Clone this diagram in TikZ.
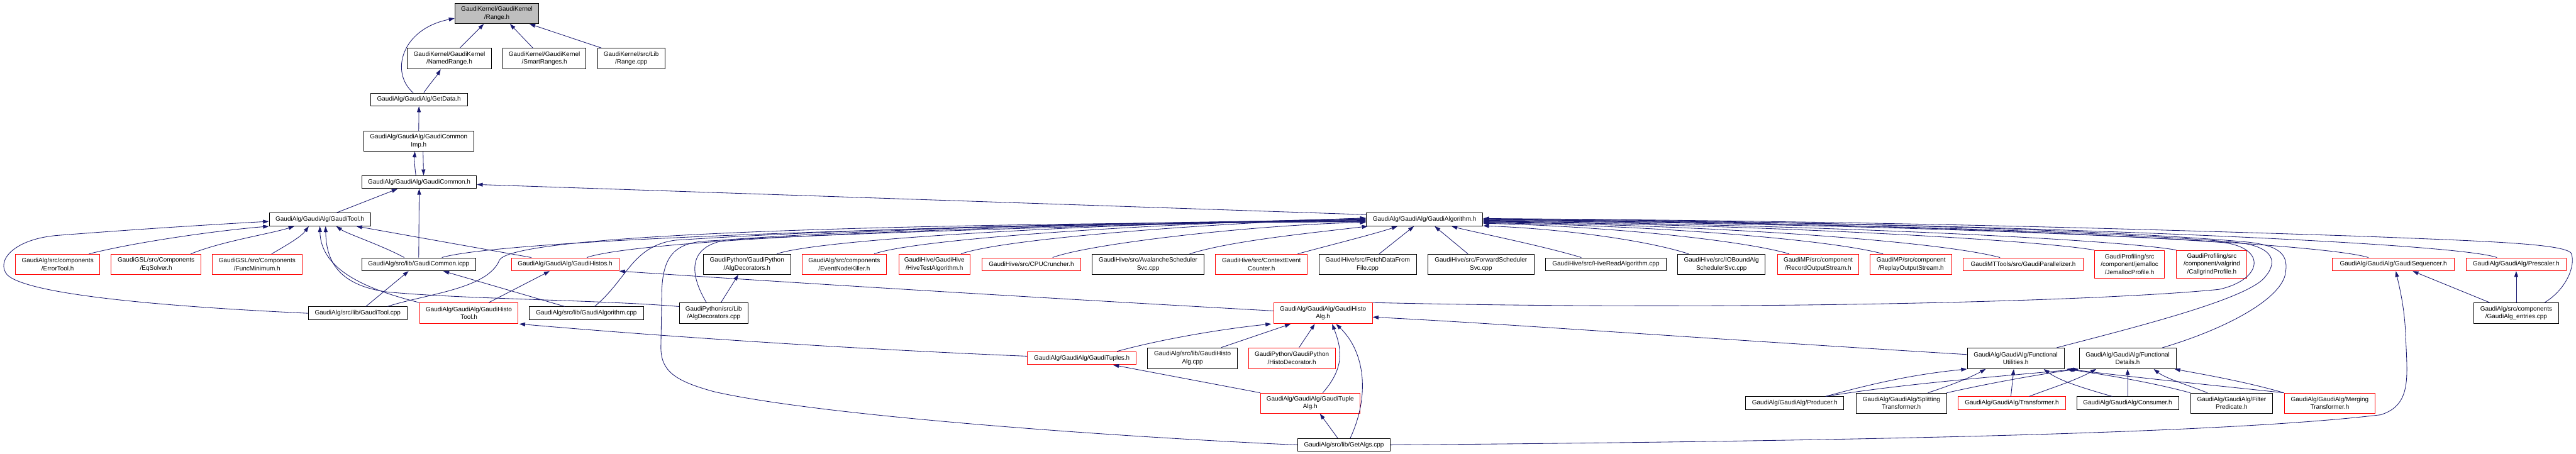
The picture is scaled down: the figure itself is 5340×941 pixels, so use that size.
\documentclass[tikz,border=0pt]{standalone}
\usepackage{fontspec}
\setmainfont{Liberation Sans}
\usetikzlibrary{arrows.meta,calc}
\definecolor{edgec}{RGB}{25,25,112}
\definecolor{redc}{RGB}{255,0,0}
\definecolor{grayf}{RGB}{191,191,191}
\begin{document}
\begin{tikzpicture}[x=1pt,y=-1pt,
 box/.style={draw=black, line width=1.25pt, inner sep=0pt, align=center, font=\fontsize{13}{16}\selectfont, fill=white},
 rbox/.style={box, draw=redc},
 sz/.style 2 args={minimum width=#1pt, minimum height=#2pt},
 e/.style={draw=edgec, line width=1.1pt, -{Triangle[length=12pt,width=8pt]}}]
\useasboundingbox[fill=white] (0,0) rectangle (5340,941);
% row 0-5
\node[box, sz={174}{42}, fill=grayf] (rh) at (1030,28) {GaudiKernel/GaudiKernel\\/Range.h};
\node[box, sz={175}{43}] (nr) at (931.5,121.5) {GaudiKernel/GaudiKernel\\/NamedRange.h};
\node[box, sz={173}{43}] (sr) at (1128.5,121.5) {GaudiKernel/GaudiKernel\\/SmartRanges.h};
\node[box, sz={139}{43}] (rcpp) at (1308.5,121.5) {GaudiKernel/src/Lib\\/Range.cpp};
\node[box, sz={201}{27}] (gd) at (868.5,206.5) {GaudiAlg/GaudiAlg/GetData.h};
\node[box, sz={228}{42}] (gci) at (868,292.5) {GaudiAlg/GaudiAlg/GaudiCommon\\Imp.h};
\node[box, sz={238}{27}] (gc) at (869,377.5) {GaudiAlg/GaudiAlg/GaudiCommon.h};
\node[box, sz={210}{27}] (gt) at (663,455) {GaudiAlg/GaudiAlg/GaudiTool.h};
\node[box, sz={242}{27}] (ga) at (2953,455) {GaudiAlg/GaudiAlg/GaudiAlgorithm.h};
% row 6
\node[rbox, sz={175}{42}] (et) at (119.5,548) {GaudiAlg/src/components\\/ErrorTool.h};
\node[rbox, sz={187}{42}] (eq) at (323.5,548) {GaudiGSL/src/Components\\/EqSolver.h};
\node[rbox, sz={186}{42}] (fm) at (533,548) {GaudiGSL/src/Components\\/FuncMinimum.h};
\node[box, sz={236}{27}] (gcicpp) at (868,548) {GaudiAlg/src/lib/GaudiCommon.icpp};
\node[rbox, sz={223}{27}] (ghs) at (1171.5,548) {GaudiAlg/GaudiAlg/GaudiHistos.h};
\node[box, sz={181}{42}] (adh) at (1548.5,548) {GaudiPython/GaudiPython\\/AlgDecorators.h};
\node[rbox, sz={174}{42}] (enk) at (1750,548) {GaudiAlg/src/components\\/EventNodeKiller.h};
\node[rbox, sz={148}{42}] (hta) at (1937,548) {GaudiHive/GaudiHive\\/HiveTestAlgorithm.h};
\node[rbox, sz={204}{27}] (cpu) at (2138,548) {GaudiHive/src/CPUCruncher.h};
\node[box, sz={232}{42}] (ava) at (2380,548) {GaudiHive/src/AvalancheScheduler\\Svc.cpp};
\node[rbox, sz={190}{42}] (cec) at (2615,548) {GaudiHive/src/ContextEvent\\Counter.h};
\node[box, sz={202}{42}] (fdf) at (2835,548) {GaudiHive/src/FetchDataFrom\\File.cpp};
\node[box, sz={220}{42}] (fws) at (3070,548) {GaudiHive/src/ForwardScheduler\\Svc.cpp};
\node[box, sz={250}{27}] (hra) at (3329,548) {GaudiHive/src/HiveReadAlgorithm.cpp};
\node[box, sz={181}{42}] (iob) at (3568.5,548) {GaudiHive/src/IOBoundAlg\\SchedulerSvc.cpp};
\node[rbox, sz={168}{42}] (ros) at (3769,548) {GaudiMP/src/component\\/RecordOutputStream.h};
\node[rbox, sz={169}{42}] (rpos) at (3961.5,548) {GaudiMP/src/component\\/ReplayOutputStream.h};
\node[rbox, sz={248}{27}] (gpar) at (4194,548) {GaudiMTTools/src/GaudiParallelizer.h};
\node[rbox, sz={145}{58}] (jem) at (4414.5,548) {GaudiProfiling/src\\/component/jemalloc\\/JemallocProfile.h};
\node[rbox, sz={146}{58}] (cal) at (4585,548) {GaudiProfiling/src\\/component/valgrind\\/CallgrindProfile.h};
\node[rbox, sz={253}{27}] (gseq) at (4961.5,548) {GaudiAlg/GaudiAlg/GaudiSequencer.h};
\node[rbox, sz={208}{27}] (pres) at (5216,548) {GaudiAlg/GaudiAlg/Prescaler.h};
% row 7
\node[rbox, sz={204}{43}] (ght) at (972,649.5) {GaudiAlg/GaudiAlg/GaudiHisto\\Tool.h};
\node[box, sz={205}{27}] (gtc) at (741.5,649.5) {GaudiAlg/src/lib/GaudiTool.cpp};
\node[box, sz={237}{27}] (gacpp) at (1215.5,649.5) {GaudiAlg/src/lib/GaudiAlgorithm.cpp};
\node[box, sz={143}{43}] (adc) at (1479.5,649.5) {GaudiPython/src/Lib\\/AlgDecorators.cpp};
\node[rbox, sz={205}{43}] (gha) at (2742.5,649.5) {GaudiAlg/GaudiAlg/GaudiHisto\\Alg.h};
\node[box, sz={176}{43}] (gae) at (5216,649.5) {GaudiAlg/src/components\\/GaudiAlg\_entries.cpp};
% row 8
\node[rbox, sz={225}{27}] (gtu) at (2242.5,742.5) {GaudiAlg/GaudiAlg/GaudiTuples.h};
\node[box, sz={186}{43}] (ghacpp) at (2472,742.5) {GaudiAlg/src/lib/GaudiHisto\\Alg.cpp};
\node[rbox, sz={180}{43}] (hdec) at (2678,742.5) {GaudiPython/GaudiPython\\/HistoDecorator.h};
\node[box, sz={201}{43}] (fu) at (4178.5,743) {GaudiAlg/GaudiAlg/Functional\\Utilities.h};
\node[box, sz={201}{43}] (fd) at (4410.5,743) {GaudiAlg/GaudiAlg/Functional\\Details.h};
% row 9
\node[rbox, sz={206}{42}] (gta) at (2716,836) {GaudiAlg/GaudiAlg/GaudiTuple\\Alg.h};
\node[box, sz={203}{27}] (prod) at (3720.5,836) {GaudiAlg/GaudiAlg/Producer.h};
\node[box, sz={187}{42}] (split) at (3941.5,836) {GaudiAlg/GaudiAlg/Splitting\\Transformer.h};
\node[rbox, sz={223}{27}] (trans) at (4170.5,836) {GaudiAlg/GaudiAlg/Transformer.h};
\node[box, sz={211}{27}] (cons) at (4410.5,836) {GaudiAlg/GaudiAlg/Consumer.h};
\node[box, sz={170}{42}] (filt) at (4626,836) {GaudiAlg/GaudiAlg/Filter\\Predicate.h};
\node[rbox, sz={189}{42}] (merg) at (4829.5,836) {GaudiAlg/GaudiAlg/Merging\\Transformer.h};
% row 10
\node[box, sz={192}{27}] (galgs) at (2786,922.5) {GaudiAlg/src/lib/GetAlgs.cpp};

% ---- edges: upper part
\draw[e] ($(nr.north)+(22,0)$) -- ($(rh.south)+(-27,0)$);
\draw[e] ($(sr.north)+(-24,0)$) -- ($(rh.south)+(27,0)$);
\draw[e] ($(rcpp.north)+(-62,0)$) -- ($(rh.south east)+(-20,0)$);
\draw[e] ($(gd.north)+(-12,0)$) .. controls (808,150) and (832,60) .. ($(rh.west)+(0,10)$);
\draw[e] ($(gd.north)+(10,0)$) .. controls (890,175) and (905,158) .. ($(nr.south)+(-18,0)$);
\draw[e] (gci.north) -- (gd.south);
\draw[e] ($(gc.north)+(-7,0)$) .. controls (859,340) and (859,330) .. ($(gci.south)+(-8,0)$);
\draw[e] ($(gci.south)+(9,0)$) -- ($(gc.north)+(9,0)$);
\draw[e] ($(gt.north)+(35,0)$) -- ($(gc.south)+(-45,0)$);
\draw[e] (gcicpp.north) -- (gc.south);
\draw[e] ($(ga.west)+(0,-10)$) -- ($(gc.east)+(0,5)$);
% ---- into GaudiTool.h
\draw[e] (gtc.west) .. controls (350,636) and (60,612) .. (15,570) .. controls (-10,540) and (30,495) .. (120,488) .. controls (300,474) and (450,465) .. ($(gt.west)+(0,4)$);
\draw[e] ($(et.north)+(65,0)$) .. controls (280,502) and (450,478) .. (gt.south west);
\draw[e] ($(eq.north)+(72,0)$) .. controls (460,500) and (560,485) .. ($(gt.south)+(-53,0)$);
\draw[e] ($(fm.north)+(30,0)$) .. controls (600,505) and (625,490) .. ($(gt.south)+(-23,0)$);
\draw[e] (ght.north west) .. controls (760,600) and (665,560) .. (gt.south);
\draw[e] ($(adc.west)+(0,-14)$) .. controls (1250,622) and (950,620) .. (800,605) .. controls (700,590) and (676,540) .. ($(gt.south)+(12,0)$);
\draw[e] ($(gcicpp.north)+(-30,0)$) .. controls (790,508) and (720,485) .. ($(gt.south)+(34,0)$);
\draw[e] ($(ghs.north west)+(42,0)$) -- ($(gt.south east)+(-30,0)$);
% ---- middle left
\draw[e] ($(gtc.north)+(17,0)$) -- ($(gcicpp.south)+(-21,0)$);
\draw[e] ($(gacpp.north)+(-45,0)$) -- ($(gcicpp.south)+(51,0)$);
\draw[e] ($(ght.north)+(41,0)$) -- ($(ghs.south)+(-32,0)$);
\draw[e] ($(gha.west)+(0,-5)$) .. controls (2200,620) and (1700,590) .. (ghs.south east);
\draw[e] ($(gtu.west)+(0,-4)$) .. controls (1800,725) and (1400,700) .. ($(ght.south east)+(2,0)$);
\draw[e] ($(adc.north)+(15,0)$) -- ($(adh.south)+(-18,0)$);
% ---- GaudiHistoAlg / Tuples
\draw[e] ($(gtu.north east)+(-40,0)$) .. controls (2420,700) and (2550,680) .. ($(gha.south west)+(-4,0)$);
\draw[e] ($(ghacpp.north)+(60,0)$) -- ($(gha.south)+(-67,0)$);
\draw[e] ($(hdec.north)+(15,0)$) -- ($(gha.south)+(-17,0)$);
\draw[e] ($(gta.north)+(26,0)$) .. controls (2790,760) and (2780,720) .. ($(gha.south)+(19,0)$);
\draw[e] ($(galgs.north)+(13,0)$) .. controls (2840,820) and (2830,730) .. ($(gha.south)+(27,0)$);
\draw[e] ($(fu.west)+(0,-8)$) .. controls (3500,700) and (3100,670) .. ($(gha.east)+(0,8)$);
\draw[e] (gta.north west) -- ($(gtu.south)+(65,0)$);
\draw[e] ($(galgs.north)+(-13,0)$) -- ($(gta.south)+(20,0)$);
% ---- right side
\draw[e] (galgs.east) .. controls (3800,915) and (4600,900) .. (4935,860) .. controls (5000,840) and (4990,780) .. (4987,700) .. controls (4985,640) and (4975,600) .. ($(gseq.south)+(5,0)$);
\draw[e] ($(gae.north west)+(34,0)$) -- ($(gseq.south)+(40,0)$);
\draw[e] (gae.north) -- (pres.south);
% ---- functional
\draw[e] ($(prod.north)+(64,0)$) .. controls (3900,790) and (3980,775) .. (fu.south west);
\draw[e] ($(prod.north)+(64,0)$) .. controls (3950,795) and (4150,780) .. (fd.south west);
\draw[e] ($(split.north)+(55,0)$) .. controls (4040,800) and (4080,785) .. ($(fu.south)+(-62,0)$);
\draw[e] (split.north east) .. controls (4100,800) and (4200,780) .. ($(fd.south west)+(-3,0)$);
\draw[e] ($(trans.north)+(-2,0)$) -- ($(fu.south)+(-4,0)$);
\draw[e] ($(trans.north)+(36,0)$) .. controls (4250,805) and (4300,790) .. ($(fd.south)+(-65,0)$);
\draw[e] ($(cons.north)+(-32,0)$) .. controls (4320,805) and (4270,790) .. ($(fu.south)+(58,0)$);
\draw[e] (cons.north) -- (fd.south);
\draw[e] (filt.north west) .. controls (4450,790) and (4350,775) .. ($(fu.south east)+(4,0)$);
\draw[e] ($(filt.north)+(-50,0)$) .. controls (4540,800) and (4490,785) .. ($(fd.south)+(54,0)$);
\draw[e] (merg.north west) .. controls (4600,800) and (4400,780) .. ($(fu.south east)+(9,0)$);
\draw[e] (merg.north west) .. controls (4650,790) and (4560,775) .. ($(fd.south east)+(-4,0)$);
% ---- into GaudiAlgorithm.h (left)
\draw[e] ($(gtc.north)+(62,0)$) .. controls (880,610) and (1010,600) .. (1035,540) .. controls (1060,480) and (2000,462) .. ($(ga.west)+(0,5)$);
\draw[e] ($(gcicpp.north)+(48,0)$) .. controls (1050,495) and (2000,465) .. ($(ga.west)+(0,4)$);
\draw[e] ($(ghs.north)+(45,0)$) .. controls (1330,495) and (2100,464) .. ($(ga.west)+(0,3)$);
\draw[e] ($(gacpp.north)+(17,0)$) .. controls (1300,580) and (1310,510) .. (1400,498) .. controls (1800,472) and (2300,462) .. ($(ga.west)+(0,2)$);
\draw[e] ($(adc.north)+(-15,0)$) .. controls (1430,570) and (1420,505) .. (1520,496) .. controls (1900,470) and (2400,460) .. ($(ga.west)+(0,1)$);
\draw[e] (galgs.west) .. controls (2300,905) and (1700,862) .. (1480,812) .. controls (1400,790) and (1370,770) .. (1370,720) -- (1372,600) .. controls (1375,530) and (1400,505) .. (1460,500) .. controls (1800,480) and (2500,462) .. (ga.west);
\draw[e] ($(adh.north)+(62,0)$) .. controls (1700,495) and (2300,462) .. ($(ga.west)+(0,-1)$);
\draw[e] ($(enk.north)+(62,0)$) .. controls (1900,495) and (2400,462) .. ($(ga.west)+(0,-2)$);
\draw[e] ($(hta.north)+(55,0)$) .. controls (2080,495) and (2500,463) .. ($(ga.west)+(0,-3)$);
\draw[e] ($(cpu.north)+(44,0)$) .. controls (2260,505) and (2600,466) .. ($(ga.west)+(0,6)$);
\draw[e] ($(ava.north)+(86,0)$) .. controls (2550,500) and (2700,485) .. ($(ga.south west)+(4,0)$);
\draw[e] ($(cec.north)+(75,0)$) .. controls (2750,510) and (2850,485) .. ($(ga.south)+(-56,0)$);
\draw[e] ($(fdf.north)+(24,0)$) -- ($(ga.south)+(-22,0)$);
\draw[e] ($(fws.north)+(-27,0)$) -- ($(ga.south)+(21,0)$);
\draw[e] ($(hra.north)+(-51,0)$) .. controls (3200,510) and (3050,480) .. ($(ga.south)+(56,0)$);
% ---- into GaudiAlgorithm.h (right)
\draw[e] ($(iob.north)+(-68,0)$) .. controls (3420,500) and (3250,475) .. ($(ga.south east)+(0,-1)$);
\draw[e] ($(ros.north)+(-60,0)$) .. controls (3620,500) and (3350,470) .. ($(ga.east)+(0,8)$);
\draw[e] ($(rpos.north)+(-58,0)$) .. controls (3800,498) and (3450,468) .. ($(ga.east)+(0,7)$);
\draw[e] ($(gpar.north)+(-48,0)$) .. controls (4020,500) and (3550,466) .. ($(ga.east)+(0,6)$);
\draw[e] (jem.north west) .. controls (4200,495) and (3600,464) .. ($(ga.east)+(0,5)$);
\draw[e] (cal.north west) .. controls (4380,495) and (3700,463) .. ($(ga.east)+(0,4)$);
\draw[e] (gha.north east) .. controls (3600,645) and (4350,625) .. (4600,600) .. controls (4690,580) and (4700,515) .. (4610,503) .. controls (4300,480) and (3600,460) .. ($(ga.east)+(0,3)$);
\draw[e] ($(fu.north)+(85,0)$) .. controls (4420,680) and (4640,625) .. (4690,580) .. controls (4725,545) and (4715,512) .. (4640,503) .. controls (4400,480) and (3700,460) .. ($(ga.east)+(0,2)$);
\draw[e] ($(fd.north)+(72,0)$) .. controls (4620,680) and (4725,620) .. (4737,570) .. controls (4745,530) and (4730,510) .. (4660,502) .. controls (4400,478) and (3800,458) .. ($(ga.east)+(0,1)$);
\draw[e] ($(gseq.north)+(-52,0)$) .. controls (4800,500) and (3900,460) .. (ga.east);
\draw[e] ($(pres.north)+(-40,0)$) .. controls (5080,500) and (4000,458) .. ($(ga.east)+(0,-1)$);
\draw[e] ($(gae.north east)+(-30,0)$) .. controls (5320,600) and (5340,550) .. (5330,525) .. controls (5315,505) and (5150,500) .. (4900,490) .. controls (4300,470) and (3800,458) .. ($(ga.east)+(0,-2)$);
\end{tikzpicture}
\end{document}
